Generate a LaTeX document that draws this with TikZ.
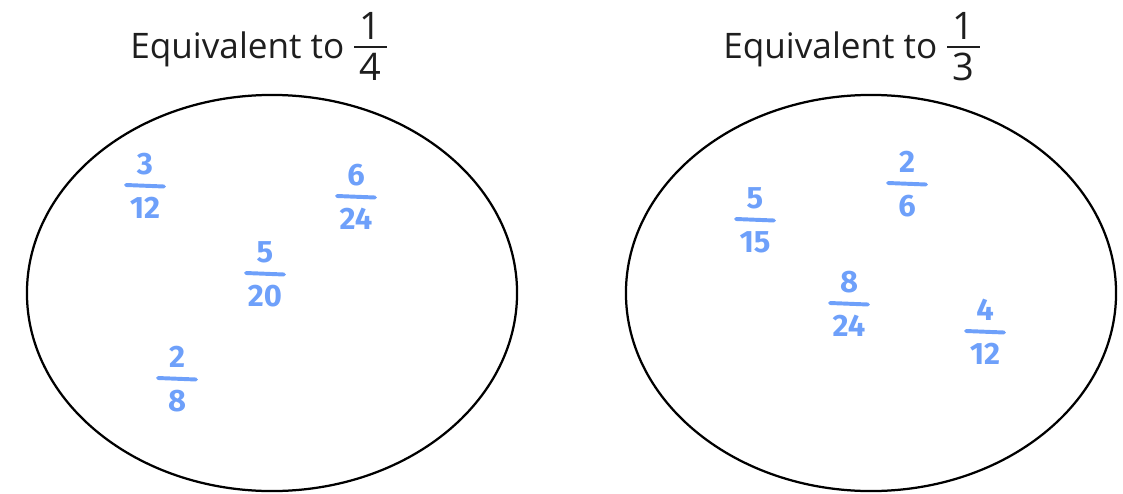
\documentclass[tikz,border=0pt]{standalone}
\usepackage{fontspec}
\setmainfont{Open Sans}
\newfontfamily\handfont{Fira Sans}
\usetikzlibrary{shapes.geometric}
\definecolor{pen}{RGB}{110,160,250}
\definecolor{ink}{RGB}{30,30,30}
\tikzset{
  set/.style={ellipse,draw=black,line width=1.6pt,inner sep=0pt,
    minimum width=12.25cm,minimum height=9.9cm},
  title/.style={font=\fontsize{25}{30}\selectfont,text=ink,inner sep=0pt},
  titlebar/.style={draw=ink,line width=1.5pt},
  hand/.style={font=\handfont\bfseries\fontsize{22}{24}\selectfont,text=pen,inner sep=0pt},
  handbar/.style={draw=pen,line width=2.8pt,line cap=round},
  % handwritten fraction
  pics/handfrac/.style n args={2}{code={
    \node[hand] (-num) at (0,-21) {#1};
    \draw[handbar] (-19,0) -- (19,1.5);
    \node[hand] (-den) at (0,23) {#2};
  }},
}
\begin{document}
\begin{tikzpicture}[x=0.025cm,y=-0.025cm]
  \useasboundingbox (0,0) rectangle (1123,493);
  % the two sets
  \node[set] (quarter) at (272,293) {};
  \node[set] (third) at (871,293) {};
  % titles
  \node[title,anchor=base west] (quarter title) at (130,58) {Equivalent to};
  \node[title,font=\fontsize{27}{30}\selectfont] (quarter num) at (370,26) {1};
  \draw[titlebar] (354,47) -- (387,47);
  \node[title,font=\fontsize{27}{30}\selectfont] (quarter den) at (370,67) {4};
  \node[title,anchor=base west] (third title) at (723,58) {Equivalent to};
  \node[title,font=\fontsize{27}{30}\selectfont] (third num) at (963,26) {1};
  \draw[titlebar] (947,47) -- (980,47);
  \node[title,font=\fontsize{27}{30}\selectfont] (third den) at (963,67) {3};
  % left set
  \pic (a) at (145,185) {handfrac={3}{12}};
  \pic (b) at (356,196) {handfrac={6}{24}};
  \pic (c) at (265,273) {handfrac={5}{20}};
  \pic (d) at (177,378) {handfrac={2}{8}};
  % right set
  \pic (e) at (755,219) {handfrac={5}{15}};
  \pic (f) at (907,183) {handfrac={2}{6}};
  \pic (g) at (849,303) {handfrac={8}{24}};
  \pic (h) at (985,331) {handfrac={4}{12}};
\end{tikzpicture}
\end{document}
